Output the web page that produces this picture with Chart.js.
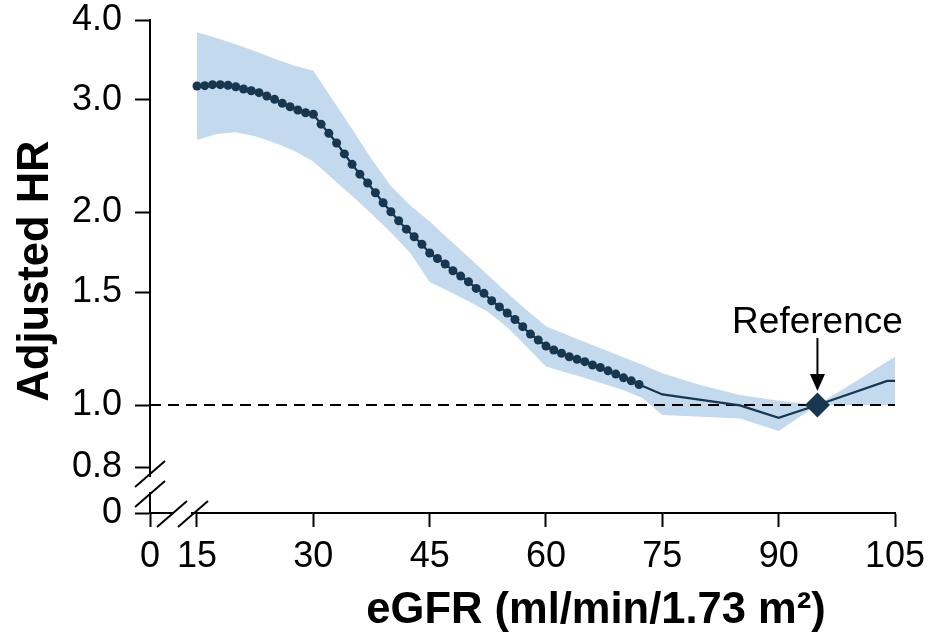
<!DOCTYPE html>
<html>
<head>
<meta charset="utf-8">
<script src="https://cdn.jsdelivr.net/npm/chart.js@4.4.1/dist/chart.umd.min.js"></script>
<style>
  html, body { margin: 0; padding: 0; background: #fff; }
</style>
</head>
<body>
<canvas id="hrChart" width="933" height="633"></canvas>
<script>
// spline estimate, evaluated every 1 ml/min up to 72 (drawn with dots)
const egfrDotted = [15, 16, 17, 18, 19, 20, 21, 22, 23, 24, 25, 26, 27, 28, 29,
  30, 31, 32, 33, 34, 35, 36, 37, 38, 39, 40, 41, 42, 43, 44, 45, 46, 47, 48, 49,
  50, 51, 52, 53, 54, 55, 56, 57, 58, 59, 60, 61, 62, 63, 64, 65, 66, 67, 68, 69,
  70, 71, 72];
const hrDotted = [3.154, 3.158, 3.169, 3.169, 3.162, 3.146, 3.120, 3.101, 3.079, 3.042,
  3.006, 2.963, 2.927, 2.893, 2.865, 2.849, 2.749, 2.660, 2.569, 2.470, 2.379, 2.296,
  2.224, 2.148, 2.072, 2.006, 1.942, 1.884, 1.833, 1.784, 1.729, 1.695, 1.662, 1.622,
  1.591, 1.559, 1.522, 1.495, 1.456, 1.424, 1.393, 1.361, 1.326, 1.291, 1.264, 1.237,
  1.219, 1.205, 1.190, 1.179, 1.169, 1.155, 1.145, 1.131, 1.118, 1.103, 1.091, 1.077];

// upper part of the curve, plain line only
const egfrTail = [75, 85, 90, 95, 104, 105];
const hrTail = [1.039, 0.999, 0.955, 1.0, 1.091, 1.091];

// 95% confidence band
const ciEgfr = [15, 17.5, 20, 22.5, 25, 27.5, 30, 32.5, 35, 37.5, 40, 42.5, 45, 47.5,
  50, 52.5, 55, 57.5, 60, 62.5, 65, 67.5, 70, 72.5, 75, 80, 85, 90, 95, 100, 105];
const ciUpper = [3.826, 3.750, 3.664, 3.574, 3.480, 3.395, 3.333, 2.999, 2.701, 2.425,
  2.200, 2.051, 1.936, 1.815, 1.704, 1.597, 1.497, 1.408, 1.328, 1.290, 1.255, 1.220,
  1.188, 1.155, 1.121, 1.074, 1.037, 1.016, 1.0, 1.090, 1.190];
const ciLower = [2.597, 2.654, 2.670, 2.633, 2.572, 2.498, 2.403, 2.259, 2.122, 1.992,
  1.861, 1.729, 1.557, 1.505, 1.453, 1.399, 1.323, 1.234, 1.149, 1.125, 1.102, 1.079,
  1.055, 1.025, 0.965, 0.959, 0.953, 0.911, 1.0, 1.0, 1.0];

// reference category
const refEgfr = 95;
const refHr = 1.0;

const xTicks = [15, 30, 45, 60, 75, 90, 105];
const yTicks = [0.8, 1.0, 1.5, 2.0, 3.0, 4.0];
// axis values that sit at the origin, beyond the axis breaks (labelled "0")
const xZero = 8.94;
const yZero = 0.678;

const NAVY = '#17364f';
const BAND = '#c3d9ee';

Chart.defaults.font.family = '"Liberation Sans", Arial, Helvetica, sans-serif';
Chart.defaults.color = '#000';

const toPoints = (xs, ys) => xs.map((x, i) => ({ x: x, y: ys[i] }));
const curve = toPoints(egfrDotted, hrDotted).concat(toPoints(egfrTail, hrTail));

// broken axes, the reference arrow and the axis titles
const decorations = {
  id: 'decorations',
  afterDraw(chart) {
    const ctx = chart.ctx;
    const { left: L, bottom: B } = chart.chartArea;
    ctx.save();

    // gaps in the axis lines
    ctx.fillStyle = '#fff';
    ctx.fillRect(L - 3, B - 36, 6, 15);
    ctx.fillRect(L + 24, B - 3, 17, 6);

    ctx.strokeStyle = '#000';
    ctx.lineWidth = 2;
    const slash = (cx, cy) => {
      ctx.beginPath();
      ctx.moveTo(cx - 15, cy + 13);
      ctx.lineTo(cx + 15, cy - 13);
      ctx.stroke();
    };
    slash(L, B - 39);
    slash(L, B - 19);
    slash(L + 22, B + 1);
    slash(L + 43, B + 1);

    // "Reference" arrow above the diamond
    const rx = chart.scales.x.getPixelForValue(refEgfr);
    const ry = chart.scales.y.getPixelForValue(refHr);
    ctx.beginPath();
    ctx.moveTo(rx, ry - 67);
    ctx.lineTo(rx, ry - 30);
    ctx.stroke();
    ctx.fillStyle = '#000';
    ctx.beginPath();
    ctx.moveTo(rx - 7.5, ry - 31);
    ctx.lineTo(rx + 7.5, ry - 31);
    ctx.lineTo(rx, ry - 14);
    ctx.closePath();
    ctx.fill();
    ctx.font = '37px "Liberation Sans", Arial, sans-serif';
    ctx.textAlign = 'center';
    ctx.textBaseline = 'alphabetic';
    ctx.fillText('Reference', rx, ry - 72);

    // axis titles
    ctx.font = 'bold 43.5px "Liberation Sans", Arial, sans-serif';
    ctx.fillText('eGFR (ml/min/1.73 m²)', 596, 623);
    ctx.translate(48, 271);
    ctx.rotate(-Math.PI / 2);
    ctx.fillText('Adjusted HR', 0, 0);
    ctx.restore();
  }
};

new Chart(document.getElementById('hrChart'), {
  type: 'line',
  data: {
    datasets: [
      {
        label: 'Reference',
        data: [{ x: refEgfr, y: refHr }],
        showLine: false,
        pointStyle: 'rectRot',
        pointRadius: 12.5,
        pointBackgroundColor: NAVY,
        pointBorderWidth: 0
      },
      {
        label: 'Adjusted HR',
        data: curve,
        borderColor: NAVY,
        borderWidth: 2.2,
        tension: 0,
        pointRadius: c => (c.dataIndex < egfrDotted.length ? 4.5 : 0),
        pointBackgroundColor: NAVY,
        pointBorderWidth: 0
      },
      {
        label: 'HR = 1',
        data: [{ x: xZero, y: 1 }, { x: 105, y: 1 }],
        borderColor: '#000',
        borderWidth: 2,
        borderDash: [11, 7],
        pointRadius: 0
      },
      {
        label: '95% CI upper',
        data: toPoints(ciEgfr, ciUpper),
        borderWidth: 0,
        pointRadius: 0,
        backgroundColor: BAND,
        fill: 4
      },
      {
        label: '95% CI lower',
        data: toPoints(ciEgfr, ciLower),
        borderWidth: 0,
        pointRadius: 0,
        fill: false
      }
    ]
  },
  options: {
    responsive: false,
    animation: false,
    layout: { padding: { top: 20, right: 38, left: 0, bottom: 0 } },
    plugins: {
      legend: { display: false },
      tooltip: { enabled: false }
    },
    scales: {
      x: {
        type: 'linear',
        min: xZero,
        max: 105,
        afterBuildTicks: s => { s.ticks = [xZero].concat(xTicks).map(v => ({ value: v })); },
        afterFit: s => {
          s.height = 120;
          s.paddingLeft = 0;
          s.paddingRight = 0;
        },
        ticks: {
          callback: (v, i) => (i === 0 ? '0' : String(v)),
          font: { size: 36, lineHeight: 1 },
          padding: 12,
          maxRotation: 0,
          autoSkip: false
        },
        grid: { drawOnChartArea: false, tickLength: 14, tickWidth: 2, tickColor: '#000' },
        border: { color: '#000', width: 2 }
      },
      y: {
        type: 'logarithmic',
        min: yZero,
        max: 4.0,
        afterBuildTicks: s => { s.ticks = [yZero].concat(yTicks).map(v => ({ value: v })); },
        afterFit: s => {
          s.width = 150;
          s.paddingTop = 0;
          s.paddingBottom = 0;
        },
        ticks: {
          callback: (v, i) => (i === 0 ? '0' : v.toFixed(1)),
          font: { size: 36, lineHeight: 1 },
          padding: 13,
          autoSkip: false
        },
        grid: { drawOnChartArea: false, tickLength: 15, tickWidth: 2, tickColor: '#000' },
        border: { color: '#000', width: 2 }
      }
    }
  },
  plugins: [decorations]
});
</script>
</body>
</html>
